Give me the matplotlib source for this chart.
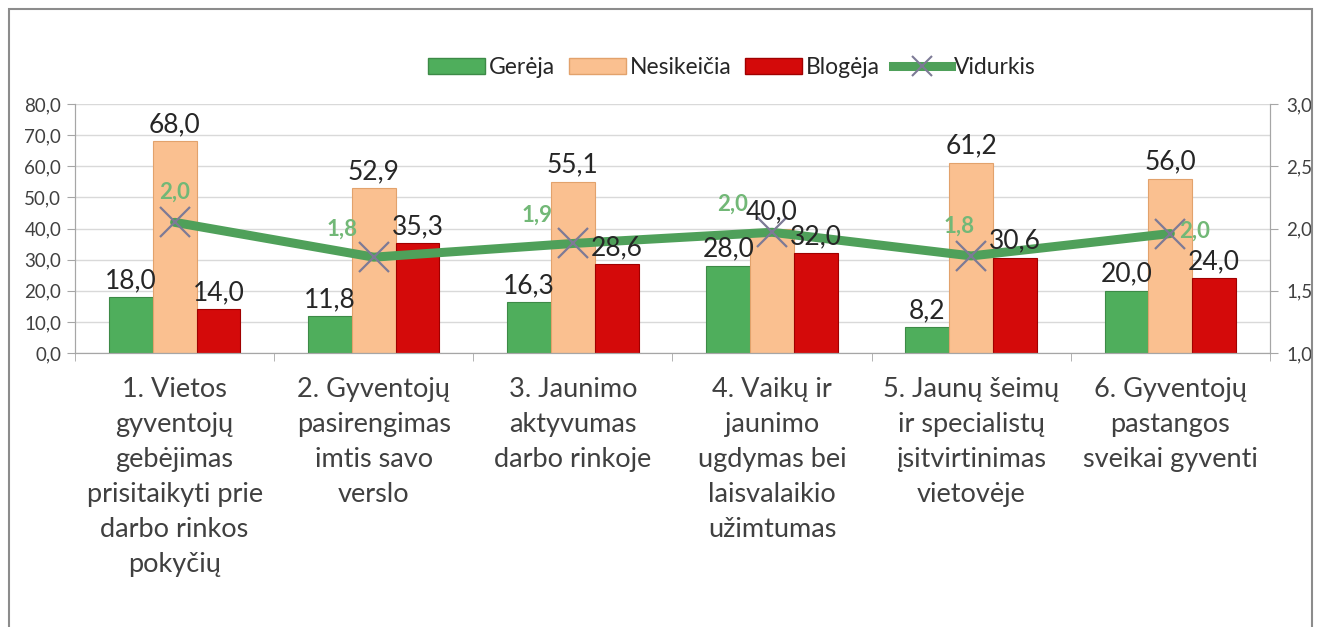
import numpy as np
import matplotlib
matplotlib.use('Agg')
import matplotlib.pyplot as plt
from matplotlib.patches import Rectangle
from matplotlib.lines import Line2D

plt.rcParams['font.family'] = ['Lato', 'DejaVu Sans']

# data
categories = [
    '1. Vietos\ngyventojų\ngebėjimas\nprisitaikyti prie\ndarbo rinkos\npokyčių',
    '2. Gyventojų\npasirengimas\nimtis savo\nverslo',
    '3. Jaunimo\naktyvumas\ndarbo rinkoje',
    '4. Vaikų ir\njaunimo\nugdymas bei\nlaisvalaikio\nužimtumas',
    '5. Jaunų šeimų\nir specialistų\nįsitvirtinimas\nvietovėje',
    '6. Gyventojų\npastangos\nsveikai gyventi',
]
gereja = [18.0, 11.8, 16.3, 28.0, 8.2, 20.0]
nesikeicia = [68.0, 52.9, 55.1, 40.0, 61.2, 56.0]
blogeja = [14.0, 35.3, 28.6, 32.0, 30.6, 24.0]
vidurkis = [2.05, 1.77, 1.88, 1.97, 1.78, 1.96]
series_names = ['Gerėja', 'Nesikeičia', 'Blogėja', 'Vidurkis']

# label offsets for the average (px), as placed in the original
avg_off = [(0, 30), (-32, 28), (-36, 28), (-40, 28), (-12, 30), (24, 2)]

def fmt(v):
    return f'{v:.1f}'.replace('.', ',')

fig = plt.figure(figsize=(13.19, 6.27), dpi=100)
ax = fig.add_axes([0.0569, 0.437, 0.9059, 0.397])
ax2 = ax.twinx()

x = np.arange(len(categories))
w = 0.22
colors = ['#4fae5c', '#fac090', '#d40a0a']
edges = ['#3d8a47', '#e2a26c', '#a00000']
txt = '#262626'
for i, (vals, c, e) in enumerate(zip([gereja, nesikeicia, blogeja], colors, edges)):
    bars = ax.bar(x + (i - 1) * w, vals, w, color=c, edgecolor=e, linewidth=0.8, zorder=2)
    for b, v in zip(bars, vals):
        # put the labels on the top axes so the line does not hide them
        ax2.annotate(fmt(v), (b.get_x() + b.get_width() / 2, v), xycoords=ax.transData,
                     xytext=(0, 3), textcoords='offset points', ha='center', va='bottom',
                     fontsize=19, color=txt, zorder=6)

ax.set_xlim(-0.5, len(categories) - 0.5)
ax.set_ylim(0, 80)
ax.set_yticks(np.arange(0, 81, 10))
ax.set_yticklabels([fmt(v) for v in np.arange(0, 81, 10)], fontsize=13.5, color='#404040')
ax.yaxis.grid(True, color='#d9d9d9', linewidth=1, zorder=0)
ax.set_axisbelow(True)

ax.set_xticks(x)
ax.set_xticklabels(categories, fontsize=19.5, color='#404040', linespacing=1.5)
ax.tick_params(axis='x', length=0, pad=17)
ax.set_xticks(np.arange(-0.5, len(categories), 1), minor=True)
ax.tick_params(axis='x', which='minor', length=6, color='#a6a6a6')
ax.tick_params(axis='y', length=6, color='#a6a6a6', pad=4)

ax2.set_ylim(1.0, 3.0)
ax2.set_yticks(np.arange(1.0, 3.01, 0.5))
ax2.set_yticklabels([fmt(v) for v in np.arange(1.0, 3.01, 0.5)], fontsize=13.5, color='#404040')
ax2.tick_params(axis='y', length=6, color='#a6a6a6', pad=6)

ax2.plot(x, vidurkis, color='#4fa05a', linewidth=6.5, solid_capstyle='round', zorder=3)
ax2.plot(x, vidurkis, linestyle='none', marker='x', markersize=22, markeredgewidth=1.6,
         color='#7d7a96', zorder=4)
for xi, v, (dx, dy) in zip(x, vidurkis, avg_off):
    ax2.annotate(f'{round(v, 1):.1f}'.replace('.', ','), (xi, v), xytext=(dx * 0.72, dy * 0.72),
                 textcoords='offset points', ha='center', va='center',
                 fontsize=16, fontweight='bold', color='#72b877', zorder=7)

for a in (ax, ax2):
    a.spines['top'].set_visible(False)
    for s in ('left', 'right', 'bottom'):
        a.spines[s].set_color('#a6a6a6')
ax2.set_zorder(ax.get_zorder() + 1)
ax.patch.set_visible(False)

handles = [Rectangle((0, 0), 1, 1, facecolor=c, edgecolor=e) for c, e in zip(colors, edges)]
handles.append(Line2D([], [], color='#4fa05a', linewidth=6.5, marker='x', markersize=14,
                      markeredgecolor='#7d7a96', markeredgewidth=1.5))
fig.legend(handles, series_names, loc='center', bbox_to_anchor=(0.555, 0.892), ncol=4,
           frameon=False, fontsize=16.5, handlelength=2.5, handletextpad=0.15,
           columnspacing=0.6, labelcolor='#262626')

# chart border
fig.patches.append(Rectangle((0.007, -0.01), 0.988, 0.995, transform=fig.transFigure,
                             fill=False, edgecolor='#8c8c8c', linewidth=1.5))

fig.savefig('out.png', dpi=100)
